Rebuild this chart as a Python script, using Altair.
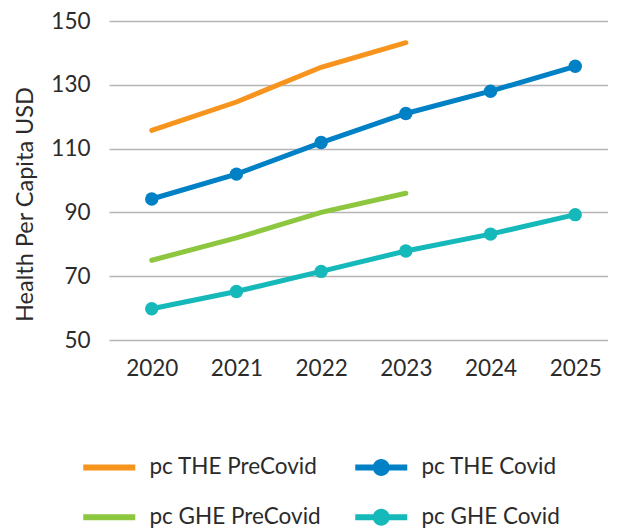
import altair as alt
import pandas as pd

years = ["2020", "2021", "2022", "2023", "2024", "2025"]
series_names = ["pc THE PreCovid", "pc THE Covid", "pc GHE PreCovid", "pc GHE Covid"]
colors = ["#F7941E", "#0081C6", "#8DC63F", "#16B9BA"]

the_precovid = [115.7, 124.6, 135.5, 143.2]
the_covid = [94.2, 102.0, 111.9, 121.0, 128.0, 135.8]
ghe_precovid = [75.0, 82.0, 90.0, 96.0]
ghe_covid = [59.8, 65.2, 71.5, 77.9, 83.2, 89.3]

series_values = [the_precovid, the_covid, ghe_precovid, ghe_covid]
covid_flags = [False, True, False, True]

rows = []
for name, vals, cov in zip(series_names, series_values, covid_flags):
    for yr, v in zip(years, vals):
        rows.append({"year": yr, "value": v, "series": name, "covid": cov})
df = pd.DataFrame(rows)

FONT = "Lato"
TEXT = "#2b2b2b"
FS = 22.5

bar = "M-2.6,-0.3 L2.6,-0.3 L2.6,0.3 L-2.6,0.3 Z"
dot = "M-0.85,0 A0.85,0.85 0 1,1 0.85,0 A0.85,0.85 0 1,1 -0.85,0 Z"
legend_shapes = [bar, bar + " " + dot, bar, bar + " " + dot]

x_enc = alt.X(
    "year:N",
    sort=years,
    scale=alt.Scale(type="point", padding=0.4457, align=0.566),
    axis=alt.Axis(
        title=None, labelAngle=0, domain=False, ticks=False, grid=False,
        labelFontSize=FS, labelFont=FONT, labelColor=TEXT, labelPadding=17,
    ),
)
y_enc = alt.Y(
    "value:Q",
    scale=alt.Scale(domain=[50, 150], nice=False, zero=False),
    axis=alt.Axis(
        title="Health Per Capita USD", values=[50, 70, 90, 110, 130, 150],
        domain=False, ticks=False, grid=True, gridColor="#b5b5b5", gridWidth=1.5,
        labelFontSize=FS, labelFont=FONT, labelColor=TEXT, labelPadding=19,
        titleFontSize=23.5, titleFont=FONT, titleColor=TEXT, titleFontWeight="normal",
        titleX=-84, titleY=183, titleAngle=270, titleBaseline="middle", titleAlign="center",
    ),
)
color_scale = alt.Scale(domain=series_names, range=colors)

leg = alt.Legend(
    title=None, orient="none", legendX=-11, legendY=435, columns=2,
    direction="horizontal",
    symbolSize=400, symbolOpacity=1, symbolStrokeWidth=0,
    labelFontSize=FS, labelFont=FONT, labelColor=TEXT, labelOffset=29,
    rowPadding=27, columnPadding=34, padding=0, labelLimit=400,
)

color_enc = alt.Color("series:N", scale=color_scale, sort=series_names, legend=leg)

lines = alt.Chart(df).mark_line(strokeWidth=5, strokeCap="round").encode(
    x=x_enc, y=y_enc, color=color_enc, detail="series:N",
)

points = alt.Chart(df).transform_filter("datum.covid").mark_circle(size=180, opacity=1).encode(
    x=x_enc, y=y_enc, color=color_enc,
)

legend_layer = alt.Chart(df).mark_point(filled=True, opacity=0).encode(
    x=x_enc, y=y_enc, color=color_enc,
    shape=alt.Shape(
        "series:N", scale=alt.Scale(domain=series_names, range=legend_shapes),
        sort=series_names, legend=leg,
    ),
)

chart = alt.layer(lines, points, legend_layer).properties(
    width=499, height=319,
    autosize=alt.AutoSizeParams(type="none"),
    padding={"left": 101, "top": 13, "right": 0, "bottom": 190},
).configure_view(stroke=None)

chart.save("out.html", embed_options={"renderer": "svg", "actions": False})
